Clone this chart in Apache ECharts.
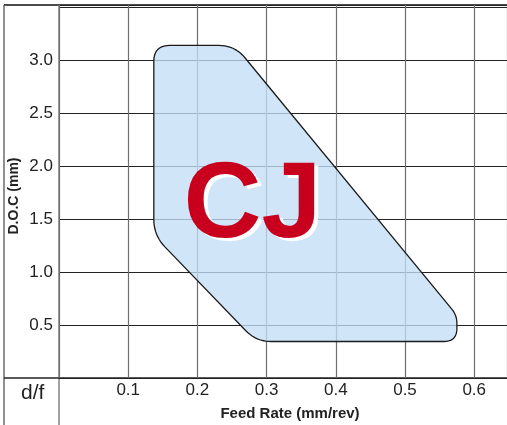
<!DOCTYPE html>
<html>
<head>
<meta charset="utf-8">
<script src="https://cdn.jsdelivr.net/npm/echarts@6/dist/echarts.min.js"></script>
<style>
  html, body { margin: 0; padding: 0; background: #fff; }
  #chart { width: 507px; height: 425px; }
</style>
</head>
<body>
<div id="chart"></div>
<script>
// working range outline (corner points), feed rate vs depth of cut
var feedRate = [0.137, 0.254, 0.575, 0.575, 0.285, 0.137];
var depthOfCut = [3.142, 3.142, 0.592, 0.345, 0.345, 1.348];
var cornerRadius = [16, 16, 8, 15, 15, 16];

var xTicks = [0.1, 0.2, 0.3, 0.4, 0.5, 0.6];
var yTicks = [0.5, 1.0, 1.5, 2.0, 2.5, 3.0];

var gradeName = 'CJ';
var xTitle = 'Feed Rate (mm/rev)';
var yTitle = 'D.O.C (mm)';
var cornerLabel = 'd/f';

var font = '"Liberation Sans", Arial, sans-serif';

function roundedOutline(pts, radii) {
    var out = [];
    var n = pts.length;
    for (var i = 0; i < n; i++) {
        var p = pts[i], a = pts[(i + n - 1) % n], b = pts[(i + 1) % n];
        var la = Math.hypot(a[0] - p[0], a[1] - p[1]);
        var lb = Math.hypot(b[0] - p[0], b[1] - p[1]);
        var r = Math.min(radii[i], la / 2, lb / 2);
        var s = [p[0] + (a[0] - p[0]) / la * r, p[1] + (a[1] - p[1]) / la * r];
        var e = [p[0] + (b[0] - p[0]) / lb * r, p[1] + (b[1] - p[1]) / lb * r];
        for (var k = 0; k <= 10; k++) {
            var t = k / 10, u = 1 - t;
            out.push([
                u * u * s[0] + 2 * u * t * p[0] + t * t * e[0],
                u * u * s[1] + 2 * u * t * p[1] + t * t * e[1]
            ]);
        }
    }
    return out;
}

var chart = echarts.init(document.getElementById('chart'));

var option = {
    animation: false,
    backgroundColor: '#fff',
    grid: {
        left: 59,
        right: 0,
        top: 5,
        bottom: 47,
        containLabel: false,
        outerBoundsMode: 'none'
    },
    xAxis: {
        type: 'value',
        min: 0,
        max: 0.6474,
        interval: 0.1,
        axisLine: { show: false },
        axisTick: { show: false },
        axisLabel: {
            showMinLabel: false,
            showMaxLabel: false,
            margin: 4,
            color: '#222',
            fontSize: 17,
            fontFamily: font,
            formatter: function (v) {
                return xTicks.some(function (t) { return Math.abs(t - v) < 1e-6; }) ? v.toFixed(1) : '';
            }
        },
        splitLine: { lineStyle: { color: '#6e6e6e', width: 1.2 } }
    },
    yAxis: {
        type: 'value',
        min: 0,
        max: 3.524,
        interval: 0.5,
        axisLine: { show: false },
        axisTick: { show: false },
        axisLabel: {
            showMinLabel: false,
            showMaxLabel: false,
            margin: 6,
            color: '#222',
            fontSize: 17,
            fontFamily: font,
            formatter: function (v) {
                return yTicks.some(function (t) { return Math.abs(t - v) < 1e-6; }) ? v.toFixed(1) : '';
            }
        },
        splitLine: { lineStyle: { color: '#222', width: 1 } }
    },
    series: [
        {
            type: 'custom',
            data: [[feedRate[0], depthOfCut[0]]],
            silent: true,
            renderItem: function (params, api) {
                var pts = feedRate.map(function (f, i) {
                    return api.coord([f, depthOfCut[i]]);
                });
                return {
                    type: 'polygon',
                    shape: { points: roundedOutline(pts, cornerRadius) },
                    style: {
                        fill: 'rgba(195,222,246,0.78)',
                        stroke: '#1a1a1a',
                        lineWidth: 1.3
                    }
                };
            }
        }
    ],
    graphic: [
        // table frame
        { type: 'line', shape: { x1: 4, y1: 5, x2: 507, y2: 5 }, style: { stroke: '#111', lineWidth: 1.6 } },
        { type: 'line', shape: { x1: 4, y1: 5, x2: 4, y2: 425 }, style: { stroke: '#555', lineWidth: 1.3 } },
        { type: 'line', shape: { x1: 59, y1: 5, x2: 59, y2: 425 }, style: { stroke: '#6e6e6e', lineWidth: 1.3 } },
        { type: 'line', shape: { x1: 4, y1: 378, x2: 507, y2: 378 }, style: { stroke: '#222', lineWidth: 1.3 } },
        {
            type: 'text', left: 21, top: 383,
            style: { text: cornerLabel, fill: '#222', font: '21px ' + font }
        },
        {
            type: 'text', x: 290, y: 414,
            style: { text: xTitle, fill: '#222', font: 'bold 15px ' + font, textAlign: 'center', textVerticalAlign: 'middle' }
        },
        {
            type: 'text', x: 14, y: 196, rotation: Math.PI / 2,
            style: { text: yTitle, fill: '#222', font: 'bold 14px ' + font, textAlign: 'center', textVerticalAlign: 'middle' }
        },
        {
            type: 'text', x: 187.5, y: 210, z: 10,
            style: { text: gradeName, fill: '#fff', font: 'bold 108px ' + font, textAlign: 'left', textVerticalAlign: 'middle' }
        },
        {
            type: 'text', x: 183.5, y: 207, z: 11,
            style: { text: gradeName, fill: '#c8001e', font: 'bold 108px ' + font, textAlign: 'left', textVerticalAlign: 'middle' }
        }
    ]
};

chart.setOption(option);
window.onresize = chart.resize;
</script>
</body>
</html>
